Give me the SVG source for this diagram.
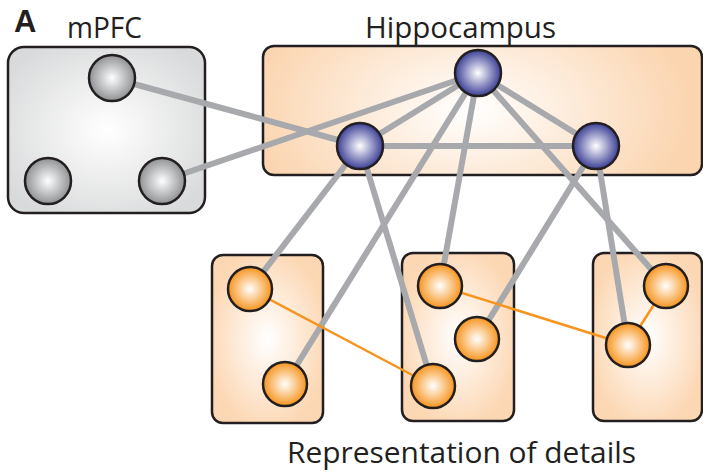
<svg xmlns="http://www.w3.org/2000/svg" width="703" height="475" viewBox="0 0 703 475">
  <style>
    .box { stroke: #231f20; stroke-width: 2.5; }
    .node { stroke: #231f20; stroke-width: 2.5; }
    .link { stroke: #a7a9ac; stroke-width: 6; fill: none; }
    .olink { stroke: #f7941d; stroke-width: 2.5; fill: none; }
    .label { font-family: "Open Sans", "Noto Sans", sans-serif; font-size: 30px; fill: #231f20; }
    .panel { font-family: "Liberation Sans", Arial, sans-serif; font-size: 31px; font-weight: bold; fill: #231f20; }
  </style>
  <defs>
    <radialGradient id="grayBox" cx="0.5" cy="0.5" r="0.6">
      <stop offset="0" stop-color="#ffffff"/>
      <stop offset="1" stop-color="#d9dadb"/>
    </radialGradient>
    <radialGradient id="peachBox" cx="0.5" cy="0.5" r="0.55">
      <stop offset="0" stop-color="#ffffff"/>
      <stop offset="1" stop-color="#fcd7b3"/>
    </radialGradient>
    <radialGradient id="hippoBox" gradientUnits="userSpaceOnUse" cx="470" cy="110" r="220" gradientTransform="translate(470 110) scale(1 0.6) translate(-470 -110)">
      <stop offset="0" stop-color="#ffffff"/>
      <stop offset="1" stop-color="#fbd5b0"/>
    </radialGradient>
    <radialGradient id="grayNode" cx="0.5" cy="0.5" r="0.5">
      <stop offset="0" stop-color="#ffffff"/>
      <stop offset="1" stop-color="#8f9194"/>
    </radialGradient>
    <radialGradient id="blueNode" cx="0.5" cy="0.5" r="0.5">
      <stop offset="0" stop-color="#ffffff"/>
      <stop offset="1" stop-color="#3c3f96"/>
    </radialGradient>
    <radialGradient id="orangeNode" cx="0.5" cy="0.5" r="0.5">
      <stop offset="0" stop-color="#ffffff"/>
      <stop offset="1" stop-color="#f7941d"/>
    </radialGradient>
  </defs>

  <rect width="703" height="475" fill="#ffffff"/>

  <!-- labels -->
  <text class="panel" x="14" y="32">A</text>
  <text class="label" x="67" y="38" textLength="75" lengthAdjust="spacingAndGlyphs">mPFC</text>
  <text class="label" x="365" y="38" textLength="191" lengthAdjust="spacingAndGlyphs">Hippocampus</text>
  <text class="label" x="287" y="463" textLength="349" lengthAdjust="spacingAndGlyphs">Representation of details</text>

  <!-- region boxes -->
  <g id="mpfc-region">
    <rect class="box" x="8" y="47" width="197" height="166" rx="16" fill="url(#grayBox)"/>
  </g>
  <g id="hippocampus-region">
    <rect class="box" x="263" y="46" width="439" height="129" rx="11" fill="url(#hippoBox)"/>
  </g>
  <g id="detail-region-1">
    <rect class="box" x="212" y="255" width="111" height="168" rx="11" fill="url(#peachBox)"/>
  </g>
  <g id="detail-region-2">
    <rect class="box" x="402" y="253" width="112" height="168" rx="11" fill="url(#peachBox)"/>
  </g>
  <g id="detail-region-3">
    <rect class="box" x="593" y="253" width="109" height="168" rx="11" fill="url(#peachBox)"/>
  </g>

  <!-- connectors -->
  <g id="connectors">
    <line class="link" x1="112" y1="78" x2="360" y2="146"/>
    <line class="link" x1="162" y1="181" x2="478" y2="73"/>
    <line class="link" x1="478" y1="73" x2="360" y2="146"/>
    <line class="link" x1="478" y1="73" x2="596" y2="146"/>
    <line class="link" x1="360" y1="146" x2="596" y2="146"/>
    <line class="link" x1="478" y1="73" x2="285" y2="384"/>
    <line class="link" x1="478" y1="73" x2="440" y2="286"/>
    <line class="link" x1="478" y1="73" x2="666" y2="286"/>
    <line class="link" x1="360" y1="146" x2="250" y2="289"/>
    <line class="link" x1="360" y1="146" x2="433" y2="386"/>
    <line class="link" x1="596" y1="146" x2="477" y2="339"/>
    <line class="link" x1="596" y1="146" x2="628" y2="345"/>
    <line class="olink" x1="250" y1="289" x2="433" y2="386"/>
    <line class="olink" x1="440" y1="286" x2="628" y2="345"/>
    <line class="olink" x1="666" y1="286" x2="628" y2="345"/>
  </g>

  <!-- mPFC cells -->
  <g id="mpfc-1"><circle class="node" cx="112" cy="78" r="23" fill="url(#grayNode)"/></g>
  <g id="mpfc-2"><circle class="node" cx="48" cy="181" r="23" fill="url(#grayNode)"/></g>
  <g id="mpfc-3"><circle class="node" cx="162" cy="181" r="23" fill="url(#grayNode)"/></g>

  <!-- hippocampal cells -->
  <g id="hpc-top"><circle class="node" cx="478" cy="73" r="23" fill="url(#blueNode)"/></g>
  <g id="hpc-left"><circle class="node" cx="360" cy="146" r="23" fill="url(#blueNode)"/></g>
  <g id="hpc-right"><circle class="node" cx="596" cy="146" r="23" fill="url(#blueNode)"/></g>

  <!-- detail cells -->
  <g id="detail-1a"><circle class="node" cx="250" cy="289" r="22" fill="url(#orangeNode)"/></g>
  <g id="detail-1b"><circle class="node" cx="285" cy="384" r="22" fill="url(#orangeNode)"/></g>
  <g id="detail-2a"><circle class="node" cx="440" cy="286" r="22" fill="url(#orangeNode)"/></g>
  <g id="detail-2b"><circle class="node" cx="477" cy="339" r="22" fill="url(#orangeNode)"/></g>
  <g id="detail-2c"><circle class="node" cx="433" cy="386" r="22" fill="url(#orangeNode)"/></g>
  <g id="detail-3a"><circle class="node" cx="666" cy="286" r="22" fill="url(#orangeNode)"/></g>
  <g id="detail-3b"><circle class="node" cx="628" cy="345" r="22" fill="url(#orangeNode)"/></g>
</svg>
